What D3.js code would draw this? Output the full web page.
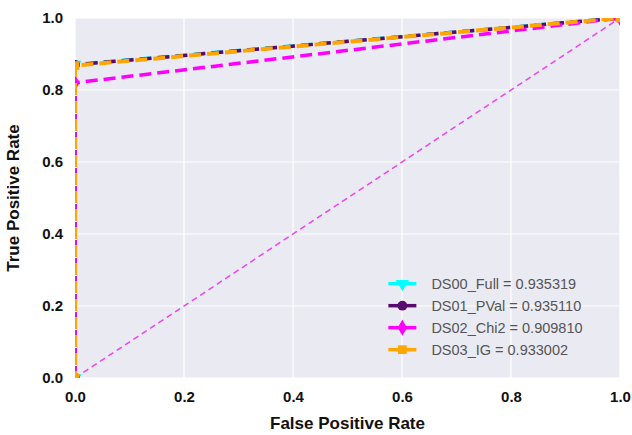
<!DOCTYPE html>
<html>
<head>
<script src="https://d3js.org/d3.v7.min.js"></script>
<style>
  body{margin:0;background:#fff;font-family:"Liberation Sans",Arial,sans-serif;}
</style>
</head>
<body>
<div id="chart"></div>
<script>
  var names = ["DS00_Full","DS01_PVal","DS02_Chi2","DS03_IG"]
  var aucs = ["0.935319","0.935110","0.909810","0.933002"]
  var colors = ["#00ffff","#5a0a6e","#ff00ff","#ffa500"]
  var symbols = [d3.symbolTriangle, d3.symbolCircle, d3.symbolDiamond, d3.symbolSquare]
  var fprs = [[0,0.0,1],[0,0.0,1],[0,0.0,1],[0,0.0,1]]
  var tprs = [[0,0.871,1],[0,0.870,1],[0,0.820,1],[0,0.868,1]]
  var ticks = [0,0.2,0.4,0.6,0.8,1.0]

  var W = 632, H = 435
  var m = {left:75, right:12, top:18, bottom:57}
  var pw = W-m.left-m.right, ph = H-m.top-m.bottom

  var x = d3.scaleLinear().domain([0,1]).range([0,pw])
  var y = d3.scaleLinear().domain([0,1]).range([ph,0])

  var svg = d3.select("#chart").append("svg").attr("width",W).attr("height",H)
  var g = svg.append("g").attr("transform","translate("+m.left+","+m.top+")")

  g.append("rect").attr("width",pw).attr("height",ph).attr("fill","#eaeaf2")
  svg.append("clipPath").attr("id","clip").append("rect").attr("width",pw).attr("height",ph)

  // grid
  g.selectAll(".gx").data(ticks).enter().append("line")
    .attr("x1",d=>x(d)).attr("x2",d=>x(d)).attr("y1",0).attr("y2",ph)
    .attr("stroke","#fff").attr("stroke-width",1.2)
  g.selectAll(".gy").data(ticks).enter().append("line")
    .attr("y1",d=>y(d)).attr("y2",d=>y(d)).attr("x1",0).attr("x2",pw)
    .attr("stroke","#fff").attr("stroke-width",1.2)

  // axes labels
  var xAxis = d3.axisBottom(x).tickValues(ticks).tickFormat(d3.format(".1f")).tickSize(0).tickPadding(13)
  var yAxis = d3.axisLeft(y).tickValues(ticks).tickFormat(d3.format(".1f")).tickSize(0).tickPadding(12)
  var xa = g.append("g").attr("transform","translate(0,"+ph+")").call(xAxis)
  var ya = g.append("g").call(yAxis)
  ;[xa,ya].forEach(function(a){
    a.select(".domain").remove()
    a.selectAll("text").attr("font-size",15).attr("font-family","Liberation Sans, Arial, sans-serif")
      .attr("fill","#111").attr("font-weight","bold")
  })

  svg.append("text").text("False Positive Rate").attr("x",m.left+pw/2).attr("y",H-6)
    .attr("text-anchor","middle").attr("font-size",17).attr("font-weight","bold").attr("fill","#111")
  svg.append("text").text("True Positive Rate")
    .attr("transform","translate(19,"+(m.top+ph/2)+") rotate(-90)")
    .attr("text-anchor","middle").attr("font-size",17).attr("font-weight","bold").attr("fill","#111")

  var plot = g.append("g").attr("clip-path","url(#clip)")

  // chance line
  plot.append("line").attr("x1",x(0)).attr("y1",y(0)).attr("x2",x(1)).attr("y2",y(1))
    .attr("stroke","#ee44ee").attr("stroke-width",1.5).attr("stroke-dasharray","6,4")

  var line = d3.line().x(d=>x(d[0])).y(d=>y(d[1]))
  names.forEach(function(n,i){
    var pts = fprs[i].map((f,j)=>[f,tprs[i][j]])
    plot.append("path").attr("d",line(pts)).attr("fill","none")
      .attr("stroke",colors[i]).attr("stroke-width", i==3 ? 4 : 3.5)
      .attr("stroke-dasharray","12,6").attr("stroke-dashoffset", i==3 ? 5 : 0)
    plot.selectAll(".m"+i).data(pts).enter().append("path")
      .attr("d",d3.symbol().type(symbols[i]).size(75))
      .attr("transform",d=>"translate("+x(d[0])+","+y(d[1])+")"+(i==0?" rotate(180)":""))
      .attr("fill",colors[i])
  })

  // legend
  var lg = g.append("g").attr("transform","translate("+(x(0.575))+","+(y(0.262))+")")
  names.forEach(function(n,i){
    var r = lg.append("g").attr("transform","translate(0,"+(i*22)+")")
    r.append("line").attr("x1",0).attr("x2",28).attr("stroke",colors[i]).attr("stroke-width",3.5)
    r.append("path").attr("d",d3.symbol().type(symbols[i]).size(75))
      .attr("transform","translate(14,0)"+(i==0?" rotate(180)":"")).attr("fill",colors[i])
    r.append("text").text(n+" = "+aucs[i]).attr("x",43).attr("y",5)
      .attr("font-size",14.5).attr("fill","#555")
  })
</script>
</body>
</html>
